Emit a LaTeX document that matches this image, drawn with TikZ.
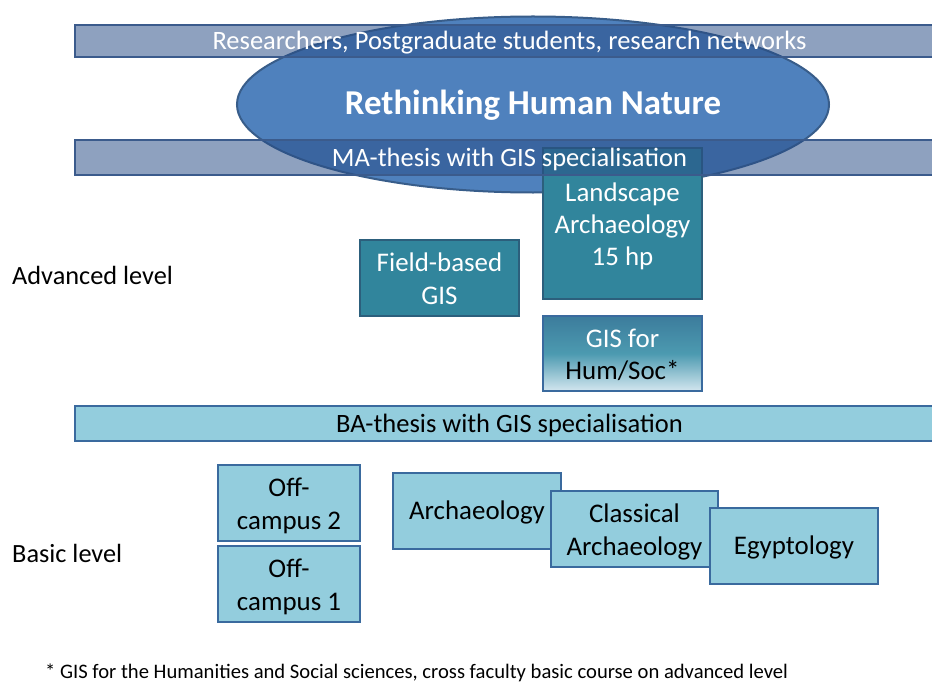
\documentclass[tikz,border=0pt]{standalone}
\usepackage{fontspec}
\setmainfont{Carlito}
\usetikzlibrary{shapes.geometric}
\definecolor{barfill}{RGB}{40,76,134}
\definecolor{barline}{HTML}{3B5B8C}
\definecolor{ellfill}{HTML}{4F81BD}
\definecolor{ellline}{HTML}{385D8A}
\definecolor{tealfill}{HTML}{31859C}
\definecolor{tealline}{HTML}{2C5F7C}
\definecolor{lightfill}{HTML}{93CDDD}
\definecolor{lightline}{HTML}{3A6A9E}
\definecolor{gradtop}{HTML}{3C7C9C}
\definecolor{gradmid}{HTML}{4C9AB0}
\definecolor{gradbot}{HTML}{D3E6EF}
% centred lines with even spacing, set a little low in their box
\newcommand{\boxlines}[1]{\raisebox{-3.5bp}[\height][\depth]{\begin{tabular}{@{}c@{}}#1\end{tabular}}}
\tikzset{
  % fixed ascent/descent so single-line labels sit at the same height
  evenlines/.style={execute at begin node={\rule{0pt}{#1}},
    execute at end node={\rule[-7bp]{0pt}{0pt}}},
  box/.style={rectangle, inner sep=0pt, line width=2.2bp,
    font=\fontsize{27}{32.5}\selectfont},
  barbox/.style={rectangle, inner sep=0pt, line width=2.2bp, draw=barline,
    fill=barfill, fill opacity=0.52, minimum width=869bp, minimum height=#1},
  bartext/.style={text=white, inner sep=0pt, font=\fontsize{26.6}{30}\selectfont, evenlines=25bp},
  tealbox/.style={box, draw=tealline, fill=tealfill, text=white},
  lightbox/.style={box, draw=lightline, fill=lightfill, text=black},
  levellabel/.style={anchor=west, inner sep=0pt, font=\fontsize{26.4}{30}\selectfont},
}
\begin{document}
\begin{tikzpicture}[x=1bp, y=-1bp]
\clip (0,0) rectangle (932,682);
\fill[white] (0,0) rectangle (932,682);

% research theme
\node[ellipse, draw=ellline, line width=2bp, fill=ellfill,
  minimum width=592bp, minimum height=176bp, inner sep=0pt] (theme) at (533,104.5) {};

% advanced level courses
\node[tealbox, minimum width=159bp, minimum height=151bp] (landscape) at (622.5,223.5)
  {\boxlines{Landscape\\Archaeology\\15 hp}};
\node[tealbox, minimum width=159bp, minimum height=76bp] (fieldgis) at (439.5,278)
  {\boxlines{Field-based\\GIS}};
\node[box, draw=lightline, top color=gradtop, bottom color=gradbot, middle color=gradmid,
  minimum width=159bp, minimum height=75bp] (gishum) at (622.5,353.5)
  {\boxlines{\textcolor{white}{GIS for}\\Hum/Soc*}};

% translucent postgraduate and MA bars laid over the theme
\node[barbox=32bp] (resbar) at (509.5,41) {};
\node[barbox=35bp] (mabar) at (509.5,157.5) {};

% labels on top
\node[text=white, inner sep=0pt, font=\fontsize{35}{40}\bfseries\selectfont, evenlines=27bp]
  (themetext) at (533,104.5) {Rethinking Human Nature};
\node[bartext] (restext) at (resbar.center) {Researchers, Postgraduate students, research networks};
\node[bartext] (matext) at (mabar.center) {MA-thesis with GIS specialisation};

% BA bar
\node[rectangle, inner sep=0pt, line width=2.2bp, draw=lightline, fill=lightfill,
  minimum width=869bp, minimum height=35bp, font=\fontsize{26.6}{30}\selectfont,
  evenlines=25bp] (babar) at (509.5,423.5)
  {BA-thesis with GIS specialisation};

% basic level courses
\node[lightbox, minimum width=142bp, minimum height=76bp] (off2) at (289,503) {\boxlines{Off-\\campus 2}};
\node[lightbox, minimum width=142bp, minimum height=76bp] (off1) at (289,584) {\boxlines{Off-\\campus 1}};
\node[lightbox, evenlines=24bp, minimum width=168bp, minimum height=76bp] (arch) at (477,511) {Archaeology};
\node[lightbox, minimum width=167bp, minimum height=76bp] (classarch) at (634.5,529) {\boxlines{Classical\\Archaeology}};
\node[lightbox, evenlines=24bp, minimum width=168bp, minimum height=76bp] (egypt) at (794,546) {Egyptology};

% level labels and footnote
\node[levellabel] (advlevel) at (12,275) {Advanced level};
\node[levellabel] (baslevel) at (12,553) {Basic level};
\node[anchor=west, inner sep=0pt, font=\fontsize{20.7}{24}\selectfont] (footnote) at (45,673)
  {* GIS for the Humanities and Social sciences, cross faculty basic course on advanced level};
\end{tikzpicture}
\end{document}
